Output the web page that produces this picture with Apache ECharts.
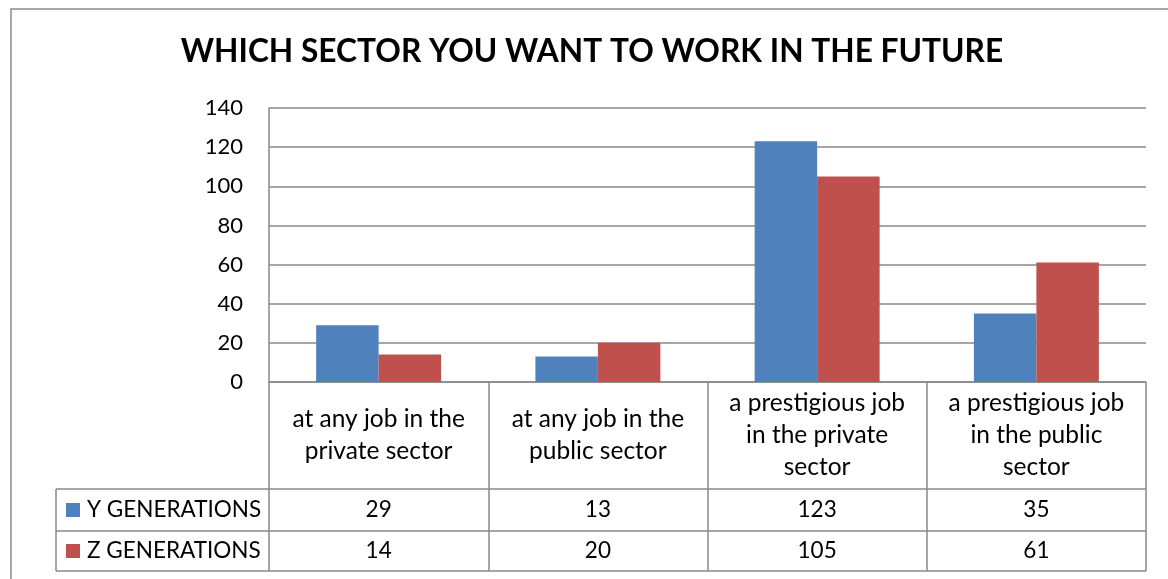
<!DOCTYPE html>
<html>
<head>
<meta charset="utf-8">
<script src="https://cdn.jsdelivr.net/npm/echarts@6/dist/echarts.min.js"></script>
<style>
  html, body { margin: 0; padding: 0; background: #fff; }
  #chart { width: 1168px; height: 579px; }
</style>
</head>
<body>
<div id="chart"></div>
<script>
// Chart data
const titleText = 'WHICH SECTOR YOU WANT TO WORK IN THE FUTURE';
const categories = [
  'at any job in the\nprivate sector',
  'at any job in the\npublic sector',
  'a prestigious job\nin the private\nsector',
  'a prestigious job\nin the public\nsector'
];
const seriesNames = ['Y GENERATIONS', 'Z GENERATIONS'];
const yGenValues = [29, 13, 123, 35];
const zGenValues = [14, 20, 105, 61];
const seriesColors = ['#4F81BD', '#C0504D'];

// Layout
const FONT = 'Lato';
const LINE = '#898989';
const W = 1168, H = 579;
const plotLeft = 269, plotRight = 1146, plotTop = 108, plotBottom = 382;
const tableLeft = 56;
const headerBottom = 489, row1Bottom = 531, row2Bottom = 571;

const chart = echarts.init(document.getElementById('chart'), null, { renderer: 'canvas' });

const option = {
  animation: false,
  backgroundColor: '#fff',
  title: {
    text: titleText,
    left: 594, top: 31, textAlign: 'center',
    textStyle: { fontFamily: FONT, fontWeight: 'bold', fontSize: 31.7, color: '#000' }
  },
  grid: { left: plotLeft, right: W - plotRight, top: plotTop, bottom: H - plotBottom, containLabel: false },
  xAxis: {
    type: 'category',
    data: categories,
    axisLine: { show: true, lineStyle: { color: LINE, width: 1.5 } },
    axisTick: { show: true, length: row2Bottom - plotBottom, lineStyle: { color: LINE, width: 1.5 } },
    axisLabel: {
      interval: 0, margin: (headerBottom - plotBottom) / 2, verticalAlign: 'middle',
      fontFamily: FONT, fontSize: 24.5, lineHeight: 32, color: '#000', align: 'center'
    }
  },
  yAxis: {
    type: 'value', min: 0, max: 140, interval: 20,
    axisLine: { show: true, lineStyle: { color: LINE, width: 1.5 } },
    axisTick: { show: false },
    axisLabel: { margin: 26, fontFamily: FONT, fontSize: 22, color: '#000' },
    splitLine: { lineStyle: { color: LINE, width: 1.5 } }
  },
  series: [
    { name: seriesNames[0], type: 'bar', data: yGenValues, barGap: '0%', barCategoryGap: '43%',
      itemStyle: { color: seriesColors[0] } },
    { name: seriesNames[1], type: 'bar', data: zGenValues,
      itemStyle: { color: seriesColors[1] } }
  ]
};
chart.setOption(option);

// The title box is centred on the whole chart frame
chart.setOption({ title: { left: 587 } });

// Data table under the plot: legend column, value rows, grid lines
const graphics = [];
// outer chart frame
graphics.push({ type: 'rect', shape: { x: 11, y: 9, width: W, height: H }, style: { fill: 'none', stroke: '#8c8c8c', lineWidth: 1.5 }, silent: true });
[headerBottom, row1Bottom, row2Bottom].forEach(y => {
  graphics.push({ type: 'line', shape: { x1: tableLeft, y1: y, x2: plotRight, y2: y }, style: { stroke: LINE, lineWidth: 1.5 }, silent: true });
});
graphics.push({ type: 'line', shape: { x1: tableLeft, y1: headerBottom, x2: tableLeft, y2: row2Bottom }, style: { stroke: LINE, lineWidth: 1.5 }, silent: true });

const rows = [
  { name: seriesNames[0], values: yGenValues, color: seriesColors[0], top: headerBottom, bottom: row1Bottom },
  { name: seriesNames[1], values: zGenValues, color: seriesColors[1], top: row1Bottom, bottom: row2Bottom }
];
rows.forEach(r => {
  const cy = (r.top + r.bottom) / 2;
  graphics.push({ type: 'rect', shape: { x: 66, y: cy - 7, width: 14, height: 14 }, style: { fill: r.color }, silent: true });
  graphics.push({ type: 'text', x: 87, y: cy, style: { text: r.name, font: '22.5px ' + FONT, fill: '#000', textAlign: 'left', textVerticalAlign: 'middle' }, silent: true });
  r.values.forEach((v, i) => {
    const cx = chart.convertToPixel({ xAxisIndex: 0 }, i);
    graphics.push({ type: 'text', x: cx, y: cy, style: { text: String(v), font: '22.5px ' + FONT, fill: '#000', textAlign: 'center', textVerticalAlign: 'middle' }, silent: true });
  });
});
chart.setOption({ graphic: graphics });
</script>
</body>
</html>
